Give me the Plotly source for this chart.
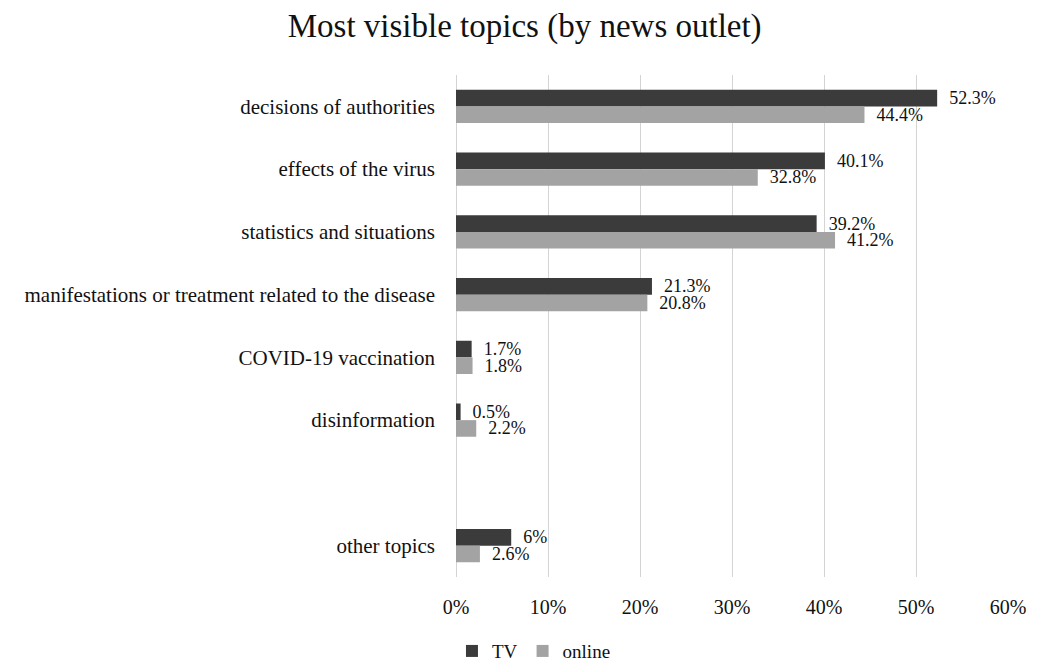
import plotly.graph_objects as go

categories = ["decisions of authorities", "effects of the virus", "statistics and situations",
              "manifestations or treatment related to the disease", "COVID-19 vaccination",
              "disinformation", " ", "other topics"]
tv = [52.3, 40.1, 39.2, 21.3, 1.7, 0.5, None, 6]
online = [44.4, 32.8, 41.2, 20.8, 1.8, 2.2, None, 2.6]
ticks = [0, 10, 20, 30, 40, 50, 60]
tick_labels = ["0%", "10%", "20%", "30%", "40%", "50%", "60%"]

FONT = "Liberation Serif, Times New Roman, serif"

def labels(vals):
    return ["" if v is None else f"  {v:g}%" for v in vals]

fig = go.Figure()
fig.add_trace(go.Bar(y=categories, x=tv, name="TV", orientation="h",
                     marker=dict(color="#3b3b3b", line=dict(width=0)), text=labels(tv),
                     textposition="outside", cliponaxis=False, constraintext="none",
                     textfont=dict(family=FONT, size=18, color="#111")))
fig.add_trace(go.Bar(y=categories, x=online, name="online", orientation="h",
                     marker=dict(color="#a3a3a3", line=dict(width=0)), text=labels(online),
                     textposition="outside", cliponaxis=False, constraintext="none",
                     textfont=dict(family=FONT, size=18, color="#111")))

fig.update_layout(
    width=1039, height=661,
    barmode="group", bargap=0.47, bargroupgap=0,
    plot_bgcolor="white", paper_bgcolor="white",
    margin=dict(l=456, r=31, t=75, b=84, autoexpand=False),
    font=dict(family=FONT, size=19, color="#111"),
    title=dict(text="Most visible topics (by news outlet)", x=0.505, xanchor="center",
               y=0.962, yanchor="middle", font=dict(family=FONT, size=33, color="#111")),
    xaxis=dict(range=[0, 60], tickvals=ticks, ticktext=tick_labels, showgrid=True,
               gridcolor="#d4d4d4", gridwidth=1, zeroline=True, zerolinecolor="#d4d4d4",
               zerolinewidth=1, showline=False,
               ticks="", tickfont=dict(family=FONT, size=20), ticklabelstandoff=16),
    yaxis=dict(categoryorder="array", categoryarray=categories, autorange="reversed",
               showgrid=False, ticks="", ticklabelstandoff=20,
               tickfont=dict(family=FONT, size=21)),
    legend=dict(orientation="h", x=0.435, xref="container", xanchor="left",
                y=0.015, yref="container", yanchor="middle",
                font=dict(family=FONT, size=19), itemwidth=30, traceorder="normal"),
    showlegend=True,
)

fig.write_html("out.html")
